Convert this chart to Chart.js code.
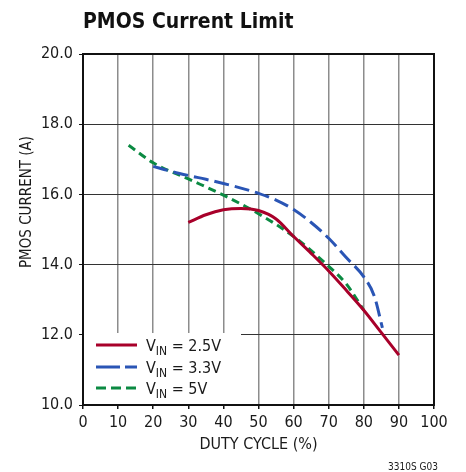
<!DOCTYPE html>
<html>
<head>
<meta charset="utf-8">
<script src="https://cdn.jsdelivr.net/npm/chart.js@4"></script>
<style>
  html, body { margin: 0; padding: 0; background: #fff; }
  #wrap { position: relative; width: 466px; height: 472px; }
</style>
</head>
<body>
<div id="wrap"><canvas id="chart" width="466" height="472"></canvas></div>
<script>
const FONT = "'Liberation Sans Narrow', 'DejaVu Sans Condensed', 'Liberation Sans', sans-serif";

const xTicks = [0, 10, 20, 30, 40, 50, 60, 70, 80, 90, 100];
const yTicks = [10, 12, 14, 16, 18, 20];

// VIN = 2.5V
const duty25 = [30, 35, 40, 45, 50, 55, 60, 65, 70, 75, 80, 85, 90];
const current25 = [15.2, 15.42, 15.56, 15.6, 15.54, 15.3, 14.8, 14.32, 13.82, 13.27, 12.7, 12.06, 11.42];

// VIN = 3.3V
const duty33 = [20, 25, 30, 35, 40, 45, 50, 55, 60, 65, 70, 75, 80, 83, 85.3];
const current33 = [16.8, 16.66, 16.54, 16.43, 16.31, 16.18, 16.03, 15.84, 15.57, 15.2, 14.75, 14.2, 13.65, 13.1, 12.2];

// VIN = 5V
const duty5 = [13, 20, 30, 40, 50, 60, 70, 75, 80];
const current5 = [17.4, 16.9, 16.44, 15.98, 15.45, 14.8, 13.95, 13.45, 12.7];

const series = [
  { label: "2.5V", x: duty25, y: current25, color: "#a8002a", dash: [] },
  { label: "3.3V", x: duty33, y: current33, color: "#2a55b5", dash: [15, 6] },
  { label: "5V", x: duty5, y: current5, color: "#0b8a42", dash: [8, 5] },
];

const datasets = series.map((s) => ({
  label: "VIN = " + s.label,
  data: s.x.map((v, i) => ({ x: v, y: s.y[i] })),
  borderColor: s.color,
  borderWidth: 3,
  borderDash: s.dash,
  pointRadius: 0,
  cubicInterpolationMode: "monotone",
  fill: false,
}));

const decorPlugin = {
  id: "decor",
  afterDraw(chart) {
    const ctx = chart.ctx;
    const a = chart.chartArea;
    ctx.save();

    // legend box
    ctx.fillStyle = "#fff";
    ctx.fillRect(a.left + 1, a.bottom - 72, 157, 71);
    const rows = [a.bottom - 60, a.bottom - 38, a.bottom - 17];
    const legendDash = [[], [24, 5], [10, 5]];
    series.forEach((s, i) => {
      const y = rows[i];
      ctx.strokeStyle = s.color;
      ctx.lineWidth = 3;
      ctx.setLineDash(legendDash[i]);
      ctx.beginPath();
      ctx.moveTo(a.left + 13, y);
      ctx.lineTo(a.left + 54, y);
      ctx.stroke();
      ctx.setLineDash([]);
      ctx.fillStyle = "#1a1a1a";
      ctx.textBaseline = "alphabetic";
      ctx.textAlign = "left";
      let x = a.left + 63;
      ctx.font = "16px " + FONT;
      ctx.fillText("V", x, y + 6);
      x += ctx.measureText("V").width;
      ctx.font = "12px " + FONT;
      ctx.fillText("IN", x, y + 10);
      x += ctx.measureText("IN").width;
      ctx.font = "16px " + FONT;
      ctx.fillText(" = " + s.label, x, y + 6);
    });

    // frame
    ctx.strokeStyle = "#111";
    ctx.lineWidth = 2;
    ctx.strokeRect(a.left, a.top, a.right - a.left, a.bottom - a.top);

    // title
    ctx.fillStyle = "#111";
    ctx.font = "bold 21px " + FONT;
    ctx.textAlign = "left";
    ctx.textBaseline = "alphabetic";
    ctx.fillText("PMOS Current Limit", a.left, 28);

    // y axis title (sits above the axis centre in the original)
    ctx.fillStyle = "#1a1a1a";
    ctx.font = "15px " + FONT;
    ctx.translate(27, 202);
    ctx.rotate(-Math.PI / 2);
    ctx.textAlign = "center";
    ctx.textBaseline = "middle";
    ctx.fillText("PMOS CURRENT (A)", 0, 0);
    ctx.setTransform(1, 0, 0, 1, 0, 0);

    // figure code
    ctx.font = "10px " + FONT;
    ctx.textAlign = "right";
    ctx.textBaseline = "alphabetic";
    ctx.fillText("3310S G03", 438, 470);
    ctx.restore();
  },
};

new Chart(document.getElementById("chart"), {
  type: "line",
  data: { datasets },
  plugins: [decorPlugin],
  options: {
    responsive: false,
    animation: false,
    layout: { padding: { top: 54, right: 32, left: 0, bottom: 0 } },
    plugins: { legend: { display: false }, tooltip: { enabled: false } },
    scales: {
      x: {
        type: "linear",
        min: 0,
        max: 100,
        afterFit: (s) => { s.height = 67; },
        afterBuildTicks: (s) => { s.ticks = xTicks.map((v) => ({ value: v })); },
        ticks: { color: "#1a1a1a", font: { family: FONT, size: 16 }, padding: 4 },
        grid: { color: "#8c8c8c", lineWidth: 1.5, tickLength: 4, tickColor: "#111" },
        border: { color: "#111", width: 2 },
        title: {
          display: true,
          text: "DUTY CYCLE (%)",
          color: "#1a1a1a",
          font: { family: FONT, size: 16 },
          padding: { top: 0, bottom: 18 },
        },
      },
      y: {
        type: "linear",
        min: 10,
        max: 20,
        afterFit: (s) => { s.width = 83; },
        afterBuildTicks: (s) => { s.ticks = yTicks.map((v) => ({ value: v })); },
        ticks: {
          color: "#1a1a1a",
          font: { family: FONT, size: 16 },
          padding: 6,
          callback: (v) => v.toFixed(1),
        },
        grid: { color: "#333", lineWidth: 1, tickLength: 4, tickColor: "#111" },
        border: { color: "#111", width: 2 },
      },
    },
  },
});
</script>
</body>
</html>
